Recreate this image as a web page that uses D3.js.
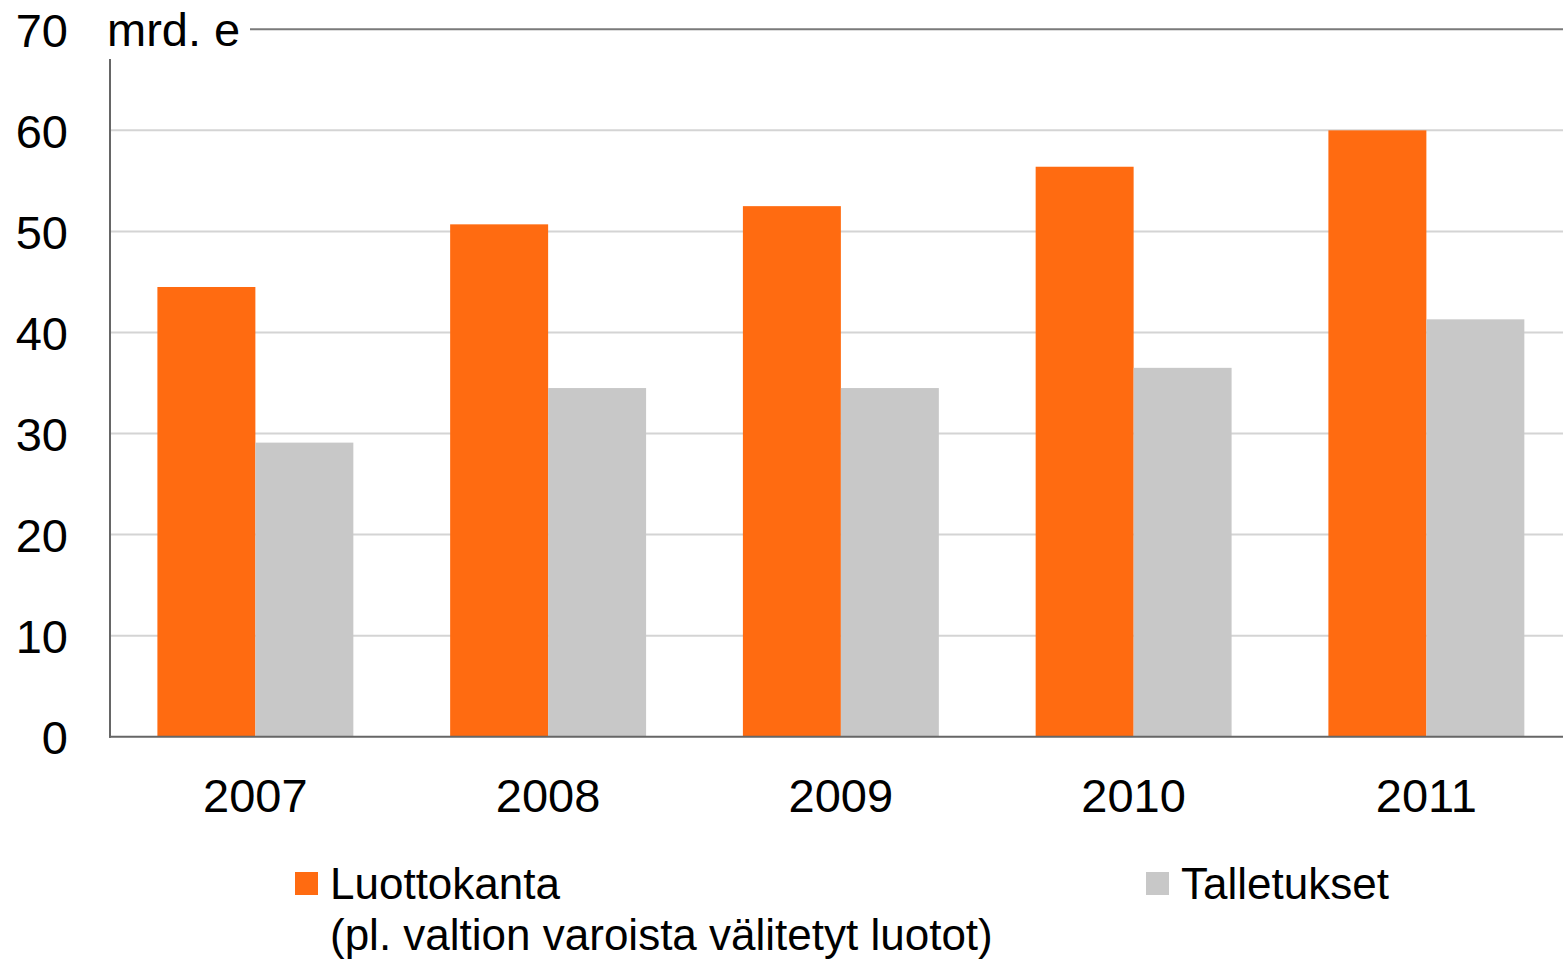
<!DOCTYPE html>
<html>
<head>
<meta charset="utf-8">
<script src="https://cdn.jsdelivr.net/npm/d3@7"></script>
<style>
  html, body { margin: 0; padding: 0; background: #fff; }
  svg { display: block; font-family: "Liberation Sans", Arial, sans-serif; }
</style>
</head>
<body>
<svg id="chart" width="1563" height="961"></svg>
<script>
// Annual totals, billions of euros
const years = ["2007", "2008", "2009", "2010", "2011"];
const seriesNames = ["Luottokanta", "Talletukset"];
const loanStock = [44.5, 50.7, 52.5, 56.4, 60.0];
const deposits = [29.1, 34.5, 34.5, 36.5, 41.3];
const yTicks = [0, 10, 20, 30, 40, 50, 60, 70];
const seriesColors = ["#FF6B11", "#C8C8C8"];

const rows = years.map((y, i) => ({ year: y, values: [loanStock[i], deposits[i]] }));

const W = 1563, H = 961;
const plot = { left: 110, top: 29.3, bottom: 736.7 };
const step = 292.75;

const svg = d3.select("#chart");

const x = d3.scaleBand()
  .domain(years)
  .range([plot.left - 1, plot.left - 1 + step * years.length])
  .padding(0);

const xInner = d3.scaleBand()
  .domain(seriesNames)
  .range([0, x.bandwidth()])
  .paddingInner(0)
  .paddingOuter(0.494);

const y = d3.scaleLinear().domain([0, 70]).range([plot.bottom, plot.top]);

// horizontal gridlines (top one drawn darker, beside the unit label)
svg.append("g").selectAll("line")
  .data(yTicks.filter(t => t > 0 && t < 70))
  .join("line")
  .attr("x1", plot.left).attr("x2", W)
  .attr("y1", d => y(d)).attr("y2", d => y(d))
  .attr("stroke", "#D4D4D4").attr("stroke-width", 2);

svg.append("line")
  .attr("x1", 250).attr("x2", W)
  .attr("y1", y(70)).attr("y2", y(70))
  .attr("stroke", "#7A7A7A").attr("stroke-width", 2);

// bars
const groups = svg.append("g").selectAll("g")
  .data(rows)
  .join("g")
  .attr("transform", d => `translate(${x(d.year)},0)`);

groups.selectAll("rect")
  .data(d => d.values.map((v, i) => ({ name: seriesNames[i], value: v, idx: i })))
  .join("rect")
  .attr("x", d => xInner(d.name))
  .attr("width", xInner.bandwidth())
  .attr("y", d => y(d.value))
  .attr("height", d => y(0) - y(d.value))
  .attr("fill", d => seriesColors[d.idx]);

// axis lines
svg.append("line")
  .attr("x1", plot.left).attr("x2", plot.left)
  .attr("y1", 59).attr("y2", plot.bottom + 1)
  .attr("stroke", "#666").attr("stroke-width", 2);
svg.append("line")
  .attr("x1", plot.left - 1).attr("x2", W)
  .attr("y1", plot.bottom).attr("y2", plot.bottom)
  .attr("stroke", "#666").attr("stroke-width", 2);

// y tick labels
const yAxis = d3.axisLeft(y).tickValues(yTicks).tickSize(0).tickPadding(0);
const yg = svg.append("g").attr("transform", "translate(68,0)").call(yAxis);
yg.select(".domain").remove();
yg.selectAll("text")
  .attr("font-size", 47).attr("fill", "#000")
  .attr("font-family", "Liberation Sans, Arial, sans-serif")
  .attr("dy", "0.36em");

// unit label
svg.append("text")
  .attr("x", 107).attr("y", y(70)).attr("dy", "0.36em")
  .attr("font-size", 47).attr("fill", "#000")
  .text("mrd. e");

// x tick labels
const xAxis = d3.axisBottom(x).tickSize(0).tickPadding(0);
const xg = svg.append("g").attr("transform", "translate(0,812)").call(xAxis);
xg.select(".domain").remove();
xg.selectAll("text")
  .attr("font-size", 47).attr("fill", "#000")
  .attr("font-family", "Liberation Sans, Arial, sans-serif")
  .attr("dy", "0");

// legend
const legend = [
  { color: seriesColors[0], sx: 295, tx: 330, lines: ["Luottokanta", "(pl. valtion varoista välitetyt luotot)"] },
  { color: seriesColors[1], sx: 1146, tx: 1181, lines: ["Talletukset"] }
];
const lg = svg.append("g").selectAll("g").data(legend).join("g");
lg.append("rect")
  .attr("x", d => d.sx).attr("y", 872)
  .attr("width", 23).attr("height", 23)
  .attr("fill", d => d.color);
lg.each(function(d) {
  d3.select(this).selectAll("text")
    .data(d.lines)
    .join("text")
    .attr("x", d.tx)
    .attr("y", (t, i) => 899 + i * 51)
    .attr("font-size", 44)
    .attr("fill", "#000")
    .text(t => t);
});
</script>
</body>
</html>
